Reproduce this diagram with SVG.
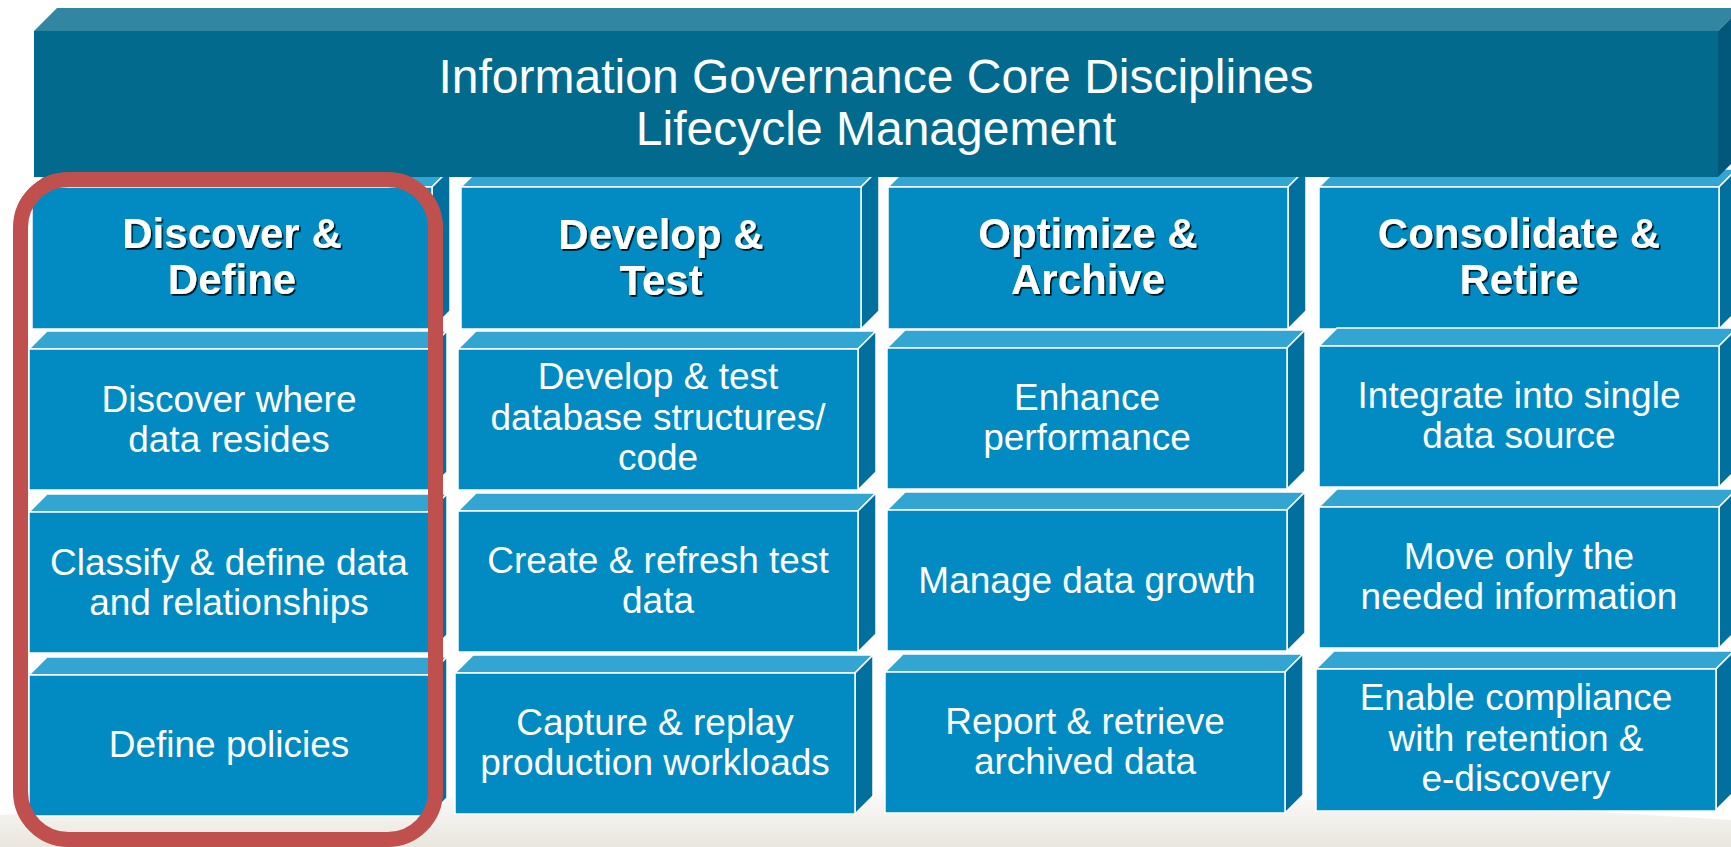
<svg xmlns="http://www.w3.org/2000/svg" width="1731" height="847" viewBox="0 0 1731 847">
<defs>
<linearGradient id="floor" x1="0" y1="780" x2="0" y2="847" gradientUnits="userSpaceOnUse">
<stop offset="0" stop-color="#ffffff"/>
<stop offset="1" stop-color="#e9e6de"/>
</linearGradient>
<filter id="sh" x="-10%" y="-20%" width="120%" height="150%">
<feDropShadow dx="1.6" dy="1.8" stdDeviation="0.4" flood-color="#000" flood-opacity="0.85"/>
</filter>
</defs>
<style>
.front{fill:#028bc3;stroke:#fff;stroke-width:1.5}
.top{fill:#33a5d3;stroke:#fff;stroke-width:1.5}
.side{fill:#01709f;stroke:#fff;stroke-width:1.5}
.title{font-family:"Liberation Sans",Arial,sans-serif;font-weight:bold;font-size:42px;fill:#fff;text-anchor:middle;filter:url(#sh)}
.item{font-family:"Liberation Sans",Arial,sans-serif;font-size:37px;fill:#fff;text-anchor:middle}
.htxt{font-family:"Liberation Sans",Arial,sans-serif;font-size:48px;fill:#fff;text-anchor:middle}
</style>
<rect width="1731" height="847" fill="#fff"/>
<path d="M0,815 Q865,765 1731,820 L1731,847 L0,847 Z" fill="url(#floor)"/>

<!-- Column 1 -->
<g id="col1-title">
<polygon class="top" points="32,187 50,169 450,169 432,187"/>
<polygon class="side" points="432,187 450,169 450,311 432,329"/>
<rect class="front" x="32" y="187" width="400" height="142"/>
<text class="title" x="232" y="248">Discover &amp;</text>
<text class="title" x="232" y="294">Define</text>
</g>
<g id="col1-item1">
<polygon class="top" points="29,349 47,331 447,331 429,349"/>
<polygon class="side" points="429,349 447,331 447,472 429,490"/>
<rect class="front" x="29" y="349" width="400" height="141"/>
<text class="item" x="229" y="412">Discover where</text>
<text class="item" x="229" y="452">data resides</text>
</g>
<g id="col1-item2">
<polygon class="top" points="29,512 47,494 447,494 429,512"/>
<polygon class="side" points="429,512 447,494 447,635 429,653"/>
<rect class="front" x="29" y="512" width="400" height="141"/>
<text class="item" x="229" y="575">Classify &amp; define data</text>
<text class="item" x="229" y="615">and relationships</text>
</g>
<g id="col1-item3">
<polygon class="top" points="29,675 47,657 447,657 429,675"/>
<polygon class="side" points="429,675 447,657 447,798 429,816"/>
<rect class="front" x="29" y="675" width="400" height="141"/>
<text class="item" x="229" y="757">Define policies</text>
</g>

<!-- Column 2 -->
<g id="col2-title">
<polygon class="top" points="461,187 479,169 879,169 861,187"/>
<polygon class="side" points="861,187 879,169 879,311 861,329"/>
<rect class="front" x="461" y="187" width="400" height="142"/>
<text class="title" x="661" y="249">Develop &amp;</text>
<text class="title" x="661" y="295">Test</text>
</g>
<g id="col2-item1">
<polygon class="top" points="458,349 476,331 876,331 858,349"/>
<polygon class="side" points="858,349 876,331 876,472 858,490"/>
<rect class="front" x="458" y="349" width="400" height="141"/>
<text class="item" x="658" y="389">Develop &amp; test</text>
<text class="item" x="658" y="430">database structures/</text>
<text class="item" x="658" y="470">code</text>
</g>
<g id="col2-item2">
<polygon class="top" points="458,511 476,493 876,493 858,511"/>
<polygon class="side" points="858,511 876,493 876,634 858,652"/>
<rect class="front" x="458" y="511" width="400" height="141"/>
<text class="item" x="658" y="573">Create &amp; refresh test</text>
<text class="item" x="658" y="613">data</text>
</g>
<g id="col2-item3">
<polygon class="top" points="455,673 473,655 873,655 855,673"/>
<polygon class="side" points="855,673 873,655 873,796 855,814"/>
<rect class="front" x="455" y="673" width="400" height="141"/>
<text class="item" x="655" y="735">Capture &amp; replay</text>
<text class="item" x="655" y="775">production workloads</text>
</g>

<!-- Column 3 -->
<g id="col3-title">
<polygon class="top" points="888,187 906,169 1306,169 1288,187"/>
<polygon class="side" points="1288,187 1306,169 1306,311 1288,329"/>
<rect class="front" x="888" y="187" width="400" height="142"/>
<text class="title" x="1088" y="248">Optimize &amp;</text>
<text class="title" x="1088" y="294">Archive</text>
</g>
<g id="col3-item1">
<polygon class="top" points="887,348 905,330 1305,330 1287,348"/>
<polygon class="side" points="1287,348 1305,330 1305,471 1287,489"/>
<rect class="front" x="887" y="348" width="400" height="141"/>
<text class="item" x="1087" y="410">Enhance</text>
<text class="item" x="1087" y="450">performance</text>
</g>
<g id="col3-item2">
<polygon class="top" points="887,510 905,492 1305,492 1287,510"/>
<polygon class="side" points="1287,510 1305,492 1305,633 1287,651"/>
<rect class="front" x="887" y="510" width="400" height="141"/>
<text class="item" x="1087" y="593">Manage data growth</text>
</g>
<g id="col3-item3">
<polygon class="top" points="885,672 903,654 1303,654 1285,672"/>
<polygon class="side" points="1285,672 1303,654 1303,795 1285,813"/>
<rect class="front" x="885" y="672" width="400" height="141"/>
<text class="item" x="1085" y="734">Report &amp; retrieve</text>
<text class="item" x="1085" y="774">archived data</text>
</g>

<!-- Column 4 -->
<g id="col4-title">
<polygon class="top" points="1319,187 1337,169 1737,169 1719,187"/>
<polygon class="side" points="1719,187 1737,169 1737,311 1719,329"/>
<rect class="front" x="1319" y="187" width="400" height="142"/>
<text class="title" x="1519" y="248">Consolidate &amp;</text>
<text class="title" x="1519" y="294">Retire</text>
</g>
<g id="col4-item1">
<polygon class="top" points="1319,346 1337,328 1737,328 1719,346"/>
<polygon class="side" points="1719,346 1737,328 1737,469 1719,487"/>
<rect class="front" x="1319" y="346" width="400" height="141"/>
<text class="item" x="1519" y="408">Integrate into single</text>
<text class="item" x="1519" y="448">data source</text>
</g>
<g id="col4-item2">
<polygon class="top" points="1319,507 1337,489 1737,489 1719,507"/>
<polygon class="side" points="1719,507 1737,489 1737,630 1719,648"/>
<rect class="front" x="1319" y="507" width="400" height="141"/>
<text class="item" x="1519" y="569">Move only the</text>
<text class="item" x="1519" y="609">needed information</text>
</g>
<g id="col4-item3">
<polygon class="top" points="1316,669 1334,651 1734,651 1716,669"/>
<polygon class="side" points="1716,669 1734,651 1734,792 1716,810"/>
<rect class="front" x="1316" y="669" width="400" height="142"/>
<text class="item" x="1516" y="710">Enable compliance</text>
<text class="item" x="1516" y="751">with retention &amp;</text>
<text class="item" x="1516" y="791">e-discovery</text>
</g>

<!-- Header bar -->
<g id="header">
<polygon points="34,31 57,8 1741,8 1718,31" fill="#3286a2"/>
<polygon points="1718,31 1741,8 1741,154 1718,177" fill="#02587a"/>
<rect x="34" y="31" width="1684" height="146" fill="#026a8c"/>
<text class="htxt" x="876" y="93">Information Governance Core Disciplines</text>
<text class="htxt" x="876" y="145">Lifecycle Management</text>
</g>

<!-- Highlight -->
<g id="connectors">
<rect id="highlight" x="20.5" y="179.5" width="415" height="660" rx="48" ry="48" fill="none" stroke="#c0504d" stroke-width="15"/>
</g>
</svg>
